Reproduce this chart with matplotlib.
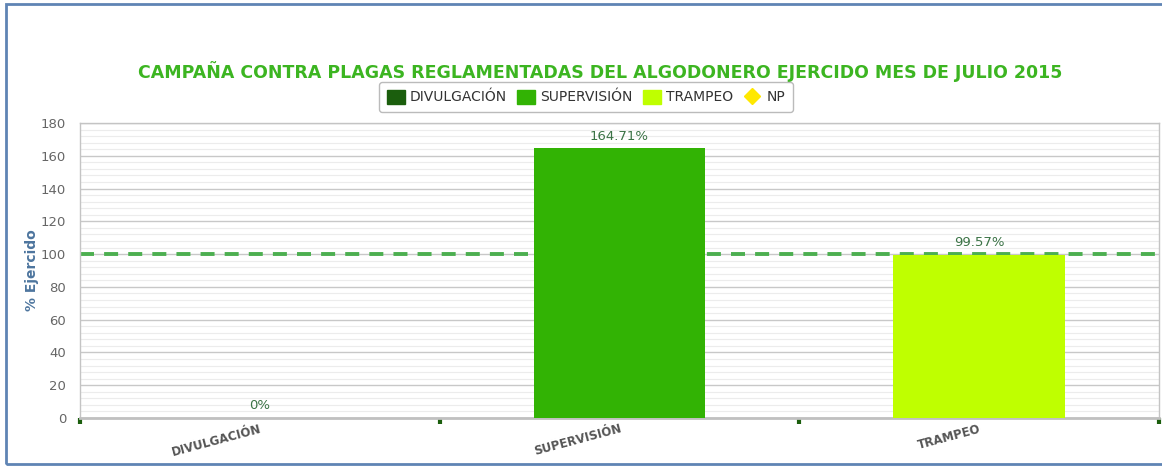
import matplotlib.pyplot as plt
from matplotlib.patches import Rectangle
from matplotlib.lines import Line2D
import numpy as np

# chart data
categories = ['DIVULGACIÓN', 'SUPERVISIÓN', 'TRAMPEO']
values = [0, 164.71, 99.57]
labels = ['0%', '164.71%', '99.57%']
colors = ['#1b5e0d', '#32b304', '#bfff00']
np_color = '#ffe800'
target = 100

fig = plt.figure(figsize=(11.62, 4.68), dpi=100)
ax = fig.add_axes([80 / 1162, 1 - 418 / 468, 1079 / 1162, 295 / 468])

x = np.arange(len(categories))
bars = ax.bar(x, values, width=0.478, color=colors, zorder=3)
for xi, v, lab in zip(x, values, labels):
    ax.annotate(lab, (xi, v), xytext=(0, 4), textcoords='offset points',
                ha='center', va='bottom', fontsize=9.5, color='#3b7346', zorder=5)

# target line
ln = ax.axhline(target, color='#4caf50', linewidth=2.8, zorder=2)
ln.set_dashes([3.6, 2.6])

ax.set_xlim(-0.5, 2.5)
ax.set_ylim(0, 180)
ax.set_yticks(range(0, 181, 20))
ax.set_yticks(range(0, 181, 4), minor=True)
ax.grid(axis='y', which='major', color='#c8c8c8', linewidth=1, zorder=0)
ax.grid(axis='y', which='minor', color='#ececec', linewidth=0.8, zorder=0)
ax.tick_params(axis='y', which='both', length=0, labelsize=9.5, labelcolor='#666666', pad=10)

ax.set_xticks(x)
ax.set_xticklabels(categories, rotation=15, ha='right', rotation_mode='anchor',
                   fontsize=8.5, fontweight='bold', color='#555555')
ax.set_xticks([-0.5, 0.5, 1.5, 2.5], minor=True)
ax.tick_params(axis='x', which='major', length=0, pad=3)
ax.tick_params(axis='x', which='minor', length=4, width=3, color='#1b5e0d', direction='out')

for s in ['left', 'right', 'top']:
    ax.spines[s].set_color('#c4c4c4')
    ax.spines[s].set_linewidth(1)
ax.spines['bottom'].set_color('#c0c0c0')
ax.spines['bottom'].set_linewidth(2)

ax.set_ylabel('% Ejercido', color='#4d759e', fontsize=10, fontweight='bold', labelpad=1)

fig.text(600 / 1162, 1 - 72 / 468, 'CAMPAÑA CONTRA PLAGAS REGLAMENTADAS DEL ALGODONERO EJERCIDO MES DE JULIO 2015',
         ha='center', va='center', fontsize=12.5, fontweight='bold', color='#3cb521')

handles = [Rectangle((0, 0), 1, 1, color=c) for c in colors]
handles.append(Line2D([], [], marker='D', color='none', markerfacecolor=np_color,
                      markeredgecolor=np_color, markersize=8))
leg = fig.legend(handles, categories + ['NP'], loc='center', ncol=4,
                 bbox_to_anchor=(586 / 1162, 1 - 97 / 468), frameon=True,
                 fontsize=10, handlelength=1.3, handleheight=1.2, handletextpad=0.4,
                 columnspacing=0.7, borderpad=0.55, fancybox=True)
leg.get_frame().set_edgecolor('#aaaaaa')
leg.get_frame().set_linewidth(1)
for t in leg.get_texts():
    t.set_color('#333333')

# outer frame
fig.patches.append(Rectangle((6 / 1162, 4 / 468), 1.1, 460 / 468, transform=fig.transFigure,
                             fill=False, edgecolor='#5f84b4', linewidth=2))

fig.savefig('out.png', dpi=100)
